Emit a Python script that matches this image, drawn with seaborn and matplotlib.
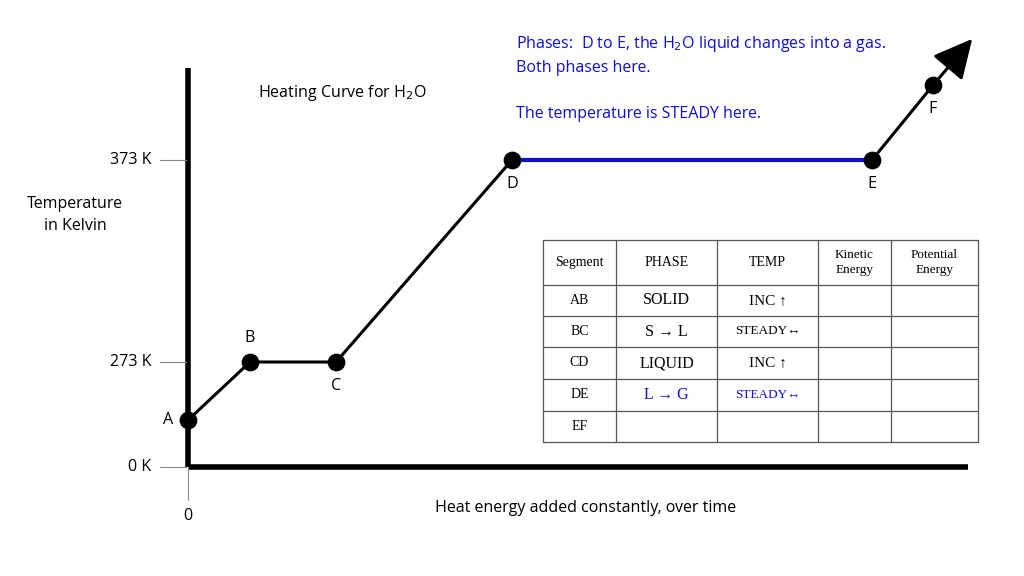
import numpy as np
import pandas as pd
import matplotlib
matplotlib.use("Agg")
import matplotlib.pyplot as plt
import seaborn as sns

# heating curve points (heat added in arbitrary units, temperature in K)
labels = ["A", "B", "C", "D", "E", "F"]
heat = [0, 62, 148, 324, 684, 745]
temp = [122, 273, 273, 373, 373, 410]
arrow_tip = (786, 434)

ytick_vals = [373, 273, 0]
ytick_labels = ["373 K", "273 K", "0 K"]

seg_names = ["AB", "BC", "CD", "DE", "EF"]
phases = ["SOLID", "S \u2192 L", "LIQUID", "L \u2192 G", ""]
temps_col = ["INC \u2191", "STEADY\u2194", "INC \u2191", "STEADY\u2194", ""]
header = ["Segment", "PHASE", "TEMP", "Kinetic\nEnergy", "Potential\nEnergy"]

BLUE = "#1010d0"

# non-linear temperature axis like the slide (piecewise linear)
t_knots = [0, 273, 373]
h_knots = [576 - 467, 576 - 362, 576 - 160]


def fwd(t):
    t = np.asarray(t, dtype=float)
    lo = h_knots[0] + (t - 0) * (h_knots[1] - h_knots[0]) / 273
    hi = h_knots[2] + (t - 373) * (h_knots[2] - h_knots[1]) / 100
    return np.where(t <= 0, lo, np.where(t >= 373, hi, np.interp(t, t_knots, h_knots)))


def inv(h):
    h = np.asarray(h, dtype=float)
    lo = (h - h_knots[0]) * 273 / (h_knots[1] - h_knots[0])
    hi = 373 + (h - h_knots[2]) * 100 / (h_knots[2] - h_knots[1])
    return np.where(h <= h_knots[0], lo, np.where(h >= h_knots[2], hi, np.interp(h, h_knots, t_knots)))


sns.set_theme(style="white", rc={"text.color": "black"})
fig = plt.figure(figsize=(10.24, 5.76), dpi=100)
ax = fig.add_axes([0, 0, 1, 1])
ax.set_yscale("function", functions=(fwd, inv))
ax.set_xlim(-188, 1024 - 188)
ax.set_ylim(float(inv(0)), float(inv(576)))
ax.axis("off")

df = pd.DataFrame({"heat": heat, "temp": temp, "label": labels})

# axes lines
y_top = float(inv(576 - 68))
ax.plot([0, 0], [0, y_top], color="black", lw=4, solid_capstyle="butt", zorder=1)
ax.plot([0, 780], [0, 0], color="black", lw=4, solid_capstyle="butt", zorder=1)
for v, lab in zip(ytick_vals, ytick_labels):
    ax.plot([-28, -2], [v, v], color="#888888", lw=0.8)
    ax.text(-37, v, lab, ha="right", va="center", fontsize=11.5, family="Open Sans")
ax.plot([0, 0], [0, float(inv(576 - 500))], color="#888888", lw=0.8)
ax.text(0, float(inv(576 - 516)), "0", ha="center", va="center", fontsize=11.5, family="Open Sans")

# curve
black_parts = pd.concat([df.iloc[0:4].assign(seg=0), df.iloc[4:6].assign(seg=1)])
for _, part in black_parts.groupby("seg"):
    sns.lineplot(data=part, x="heat", y="temp", color="black", lw=2.2, ax=ax, sort=False)
sns.lineplot(data=df.iloc[3:5], x="heat", y="temp", color=BLUE, lw=3, ax=ax, sort=False)
ax.annotate("", xy=arrow_tip, xytext=(heat[-1], temp[-1]),
            arrowprops=dict(arrowstyle="-|>,head_length=2.0,head_width=1.0", color="black", lw=2.2))
sns.scatterplot(data=df, x="heat", y="temp", color="black", s=140, ax=ax, zorder=5, edgecolor="black")
ax.set_xlim(-188, 1024 - 188)

offsets = {"A": (-20, 0), "B": (0, 24), "C": (0, -24), "D": (0, -24), "E": (0, -24), "F": (0, -24)}
for x, t, lab in zip(heat, temp, labels):
    dx, dy = offsets[lab]
    ax.annotate(lab, (x, t), xytext=(dx * 0.72, dy * 0.72), textcoords="offset points",
                ha="center", va="center", fontsize=11.5, family="Open Sans")


def ftxt(x, y, s, **kw):
    kw.setdefault("family", "Open Sans")
    kw.setdefault("fontsize", 11.5)
    fig.text(x / 1024, 1 - y / 576, s, **kw)


ftxt(258, 93, "Heating Curve for H$_2$O", va="center")
ftxt(75, 215, "Temperature\nin Kelvin", ha="center", va="center", linespacing=1.5)
ftxt(586, 508, "Heat energy added constantly, over time", ha="center", va="center")
ftxt(516, 44, "Phases:  D to E, the H$_2$O liquid changes into a gas.", va="center", color=BLUE)
ftxt(516, 68, "Both phases here.", va="center", color=BLUE)
ftxt(516, 114, "The temperature is STEADY here.", va="center", color=BLUE)

# table
xs = [543, 616, 717, 818, 891, 978]
ys = [240, 285, 316, 347, 379, 411, 442]
for x in xs:
    fig.add_artist(plt.Line2D([x / 1024] * 2, [1 - ys[0] / 576, 1 - ys[-1] / 576], color="#555555", lw=0.9))
for y in ys:
    fig.add_artist(plt.Line2D([xs[0] / 1024, xs[-1] / 1024], [1 - y / 576] * 2, color="#555555", lw=0.9))
serif = "Liberation Serif"
for j, h in enumerate(header):
    ftxt((xs[j] + xs[j + 1]) / 2, (ys[0] + ys[1]) / 2, h, ha="center", va="center",
         family=serif, fontsize=10 if j < 3 else 9.5, linespacing=1.3)
for i in range(5):
    yc = (ys[i + 1] + ys[i + 2]) / 2
    col = BLUE if seg_names[i] == "DE" else "black"
    ftxt((xs[0] + xs[1]) / 2, yc, seg_names[i], ha="center", va="center", family=serif, fontsize=10)
    ftxt((xs[1] + xs[2]) / 2, yc, phases[i], ha="center", va="center", family=serif, fontsize=11.5, color=col)
    ftxt((xs[2] + xs[3]) / 2, yc, temps_col[i], ha="center", va="center", family=serif,
         fontsize=11 if "INC" in temps_col[i] else 9.5, color=col)

fig.savefig("out.png", dpi=100)
